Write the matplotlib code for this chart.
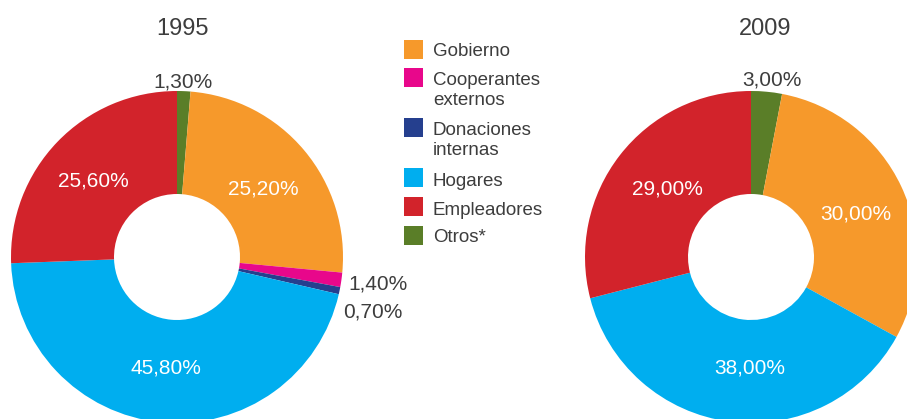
import matplotlib
matplotlib.use("Agg")
import matplotlib.pyplot as plt
from matplotlib.patches import Rectangle

# ---- data ----
categories = ["Gobierno", "Cooperantes\nexternos", "Donaciones\ninternas",
              "Hogares", "Empleadores", "Otros*"]
colors = ["#F6992B", "#E8078B", "#253F8E", "#00AEEF", "#D2232B", "#5A7E28"]
# drawing order (clockwise from 12 o'clock): Otros first, then the rest
order = [5, 0, 1, 2, 3, 4]
years = ["1995", "2009"]
values_1995 = [25.2, 1.4, 0.7, 45.8, 25.6, 1.3]
values_2009 = [30.0, 0.0, 0.0, 38.0, 29.0, 3.0]
labels_1995 = ["25,20%", "1,40%", "0,70%", "45,80%", "25,60%", "1,30%"]
labels_2009 = ["30,00%", "", "", "38,00%", "29,00%", "3,00%"]

# ---- layout (pixels, y from top) ----
W, H = 907, 419
TXT = "#3d3d3d"
FONT = "Liberation Sans"
plt.rcParams['font.family'] = [FONT, 'DejaVu Sans']

fig = plt.figure(figsize=(W / 100, H / 100), dpi=100)
ax = fig.add_axes([0, 0, 1, 1])

def Y(p):
    return H - p

pies = [
    dict(cx=177, cy=257, r=166, hole=63, title_xy=(183, 35), values=values_1995,
         labels=labels_1995,
         pos={0: (263, 195, 'center', 'w'), 1: (348, 290, 'left', 'd'),
              2: (343, 318, 'left', 'd'), 3: (166, 373, 'center', 'w'),
              4: (93, 187, 'center', 'w'), 5: (183, 87, 'center', 'd')}),
    dict(cx=751, cy=257, r=166, hole=63, title_xy=(765, 35), values=values_2009,
         labels=labels_2009,
         pos={0: (856, 220, 'center', 'w'), 3: (750, 373, 'center', 'w'),
              4: (667, 195, 'center', 'w'), 5: (772, 85, 'center', 'd')}),
]

for year, p in zip(years, pies):
    vals = [p['values'][i] for i in order]
    cols = [colors[i] for i in order]
    ax.pie(vals, colors=cols, startangle=90, counterclock=False,
           center=(p['cx'], Y(p['cy'])), radius=p['r'],
           wedgeprops=dict(width=p['r'] - p['hole'], linewidth=0, antialiased=True))
    ax.text(p['title_xy'][0], Y(p['title_xy'][1]), year, ha='center', va='baseline',
            fontsize=17, color=TXT)
    for i, (x, y, ha, c) in p['pos'].items():
        ax.text(x, Y(y), p['labels'][i], ha=ha, va='baseline', fontsize=15,
                color='white' if c == 'w' else TXT)

# ---- legend ----
sq_top = [40, 68, 118, 168, 197, 226]
baselines = [[56], [85, 105], [135, 155], [186], [215], [242]]
for k, cat in enumerate(categories):
    ax.add_patch(Rectangle((404, Y(sq_top[k] + 19)), 19, 19, facecolor=colors[k],
                           edgecolor='none'))
    for line, b in zip(cat.split("\n"), baselines[k]):
        ax.text(433, Y(b), line, ha='left', va='baseline', fontsize=13.5, color=TXT)

ax.set_xlim(0, W)
ax.set_ylim(0, H)
ax.set_aspect('equal')
ax.axis('off')
fig.savefig("out.png", dpi=100)
